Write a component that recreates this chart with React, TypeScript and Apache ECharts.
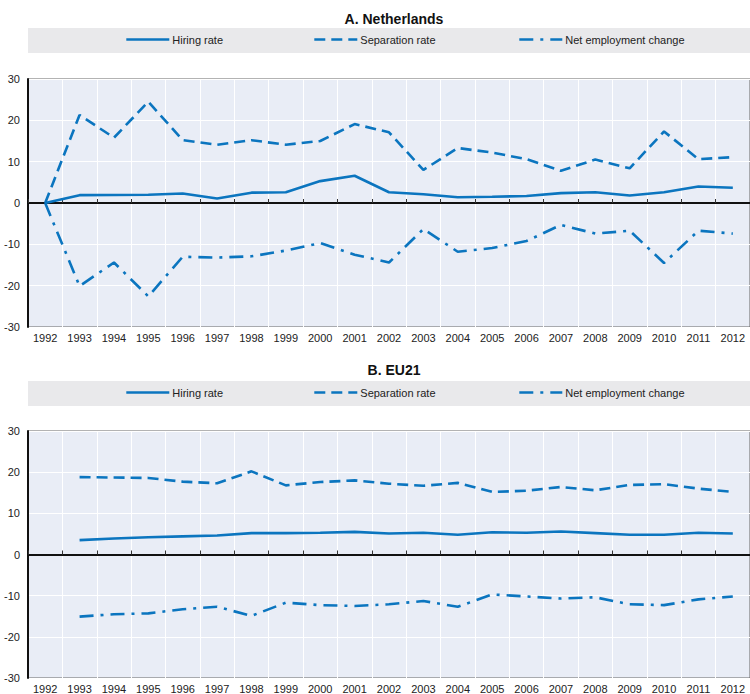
import React, { useEffect, useRef } from "react";
import * as echarts from "echarts";

const years = ["1992","1993","1994","1995","1996","1997","1998","1999","2000","2001","2002","2003","2004","2005","2006","2007","2008","2009","2010","2011","2012"];
const yTicks = [-30, -20, -10, 0, 10, 20, 30];

const nlHiring = [0, 1.9, 1.95, 2.0, 2.3, 1.1, 2.5, 2.6, 5.3, 6.6, 2.6, 2.1, 1.4, 1.5, 1.7, 2.4, 2.6, 1.8, 2.6, 4.0, 3.7];
const nlSeparation = [0, 21.3, 15.8, 24.5, 15.2, 14.1, 15.2, 14.1, 15.0, 19.1, 17.1, 8.0, 13.3, 12.2, 10.6, 7.8, 10.5, 8.4, 17.3, 10.6, 11.1];
const nlNet = [0, -20.1, -14.4, -22.6, -13.0, -13.2, -12.9, -11.5, -9.7, -12.5, -14.4, -6.3, -11.8, -10.9, -9.2, -5.3, -7.4, -6.7, -14.5, -6.7, -7.4];

const euHiring = [null, 3.5, 3.9, 4.2, 4.4, 4.6, 5.2, 5.2, 5.3, 5.5, 5.1, 5.3, 4.8, 5.4, 5.3, 5.6, 5.2, 4.8, 4.8, 5.3, 5.1];
const euSeparation = [null, 18.8, 18.7, 18.6, 17.7, 17.3, 20.2, 16.8, 17.6, 18.0, 17.2, 16.7, 17.4, 15.2, 15.5, 16.4, 15.6, 16.9, 17.1, 16.0, 15.2];
const euNet = [null, -15.1, -14.5, -14.3, -13.3, -12.7, -14.9, -11.7, -12.3, -12.5, -12.1, -11.3, -12.7, -9.7, -10.2, -10.7, -10.4, -12.1, -12.3, -10.9, -10.2];

const seriesNames = ["Hiring rate", "Separation rate", "Net employment change"];
const panelTitles = ["A. Netherlands", "B. EU21"];

const BLUE = "#0b75bf";
const FONT = "'Liberation Sans Narrow', 'Arial Narrow', 'Liberation Sans', Arial, sans-serif";
const dashTypes: any[] = ["solid", [11, 6], [14, 7, 3, 7]];

export default function App() {
  const ref = useRef<HTMLDivElement>(null);
  useEffect(() => {
    if (!ref.current) return;
    const chart = echarts.init(ref.current, null, { renderer: "svg" });
    const panels = [
      { top: 79, height: 248, titleTop: 7, boxTop: 28, data: [nlHiring, nlSeparation, nlNet] },
      { top: 431, height: 247, titleTop: 358, boxTop: 381, data: [euHiring, euSeparation, euNet] },
    ];
    const legendLefts = [125, 313, 518];
    const grids: any[] = [];
    const xAxes: any[] = [];
    const yAxes: any[] = [];
    const series: any[] = [];
    const titles: any[] = [];
    const legends: any[] = [];
    const graphics: any[] = [];
    panels.forEach((p, i) => {
      grids.push({
        left: 28, right: 0, top: p.top, height: p.height,
        show: true, backgroundColor: "#e9edf6", borderColor: "#666", borderWidth: 1,
      });
      xAxes.push({
        type: "category", gridIndex: i, data: years, boundaryGap: true,
        axisLine: { show: false, onZero: false },
        axisTick: { show: false },
        axisLabel: { fontFamily: FONT, fontSize: 11, color: "#222", margin: 5, interval: 0 },
        splitLine: { show: true, interval: 0, lineStyle: { color: "#ffffff", width: 1 } },
      });
      xAxes.push({
        type: "category", gridIndex: i, data: years, boundaryGap: true, position: "bottom",
        axisLine: { show: true, onZero: true, lineStyle: { color: "#111", width: 2 } },
        axisTick: { show: true, inside: true, length: 4, interval: 0, lineStyle: { color: "#333", width: 1 } },
        axisLabel: { show: false },
        splitLine: { show: false },
      });
      yAxes.push({
        type: "value", gridIndex: i, min: -30, max: 30, interval: 10,
        axisLine: { show: true, onZero: false, lineStyle: { color: "#111", width: 2 } },
        axisTick: { show: false },
        axisLabel: { fontFamily: FONT, fontSize: 11, color: "#222", margin: 8,
          customValues: yTicks },
        splitLine: { show: true, lineStyle: { color: "#ffffff", width: 1 } },
      });
      titles.push({
        text: panelTitles[i], left: 389, textAlign: "center", top: p.titleTop,
        textStyle: { fontFamily: FONT, fontSize: 14, fontWeight: "bold", color: "#111" },
      });
      graphics.push({
        type: "rect", left: 28, top: p.boxTop, shape: { width: 722, height: 25 },
        style: { fill: "#e9e9eb" }, z: -1,
      });
      seriesNames.forEach((name, k) => {
        legends.push({
          data: [name], left: legendLefts[k], top: p.boxTop + 6,
          itemWidth: 43, itemHeight: 12, padding: 0,
          itemStyle: { color: "rgba(0,0,0,0)", opacity: 0, borderWidth: 0 },
          lineStyle: { color: BLUE, width: 2.6, type: dashTypes[k] },
          textStyle: { fontFamily: FONT, fontSize: 11, color: "#222", padding: [0, 0, 0, -2] },
          selectedMode: false,
        });
        series.push({
          type: "line", name, xAxisIndex: i * 2, yAxisIndex: i,
          data: p.data[k], symbol: "none", connectNulls: false,
          lineStyle: { color: BLUE, width: 2.6, type: dashTypes[k] },
          itemStyle: { color: BLUE },
          z: 3,
        });
      });
    });
    chart.setOption({
      animation: false,
      backgroundColor: "#ffffff",
      title: titles,
      legend: legends,
      grid: grids,
      xAxis: xAxes,
      yAxis: yAxes,
      series,
      graphic: graphics,
    });
    return () => chart.dispose();
  }, []);
  return <div ref={ref} style={{ position: "fixed", left: 0, top: 0, width: 750, height: 694 }} />;
}
